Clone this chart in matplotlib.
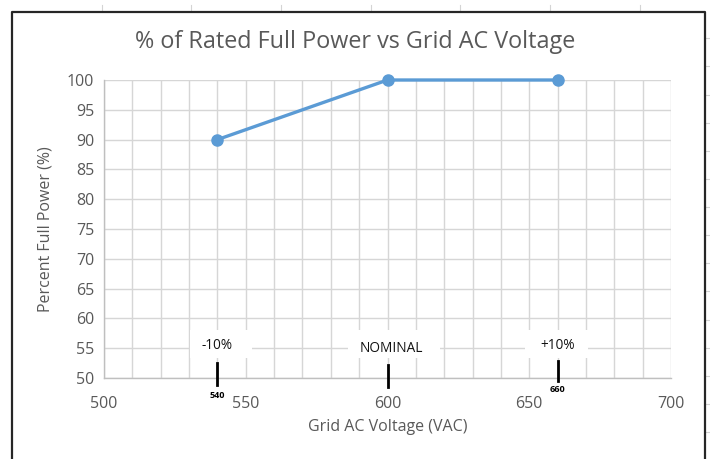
import matplotlib
matplotlib.use("Agg")
import matplotlib.pyplot as plt
from matplotlib.patches import Rectangle
from matplotlib.lines import Line2D

# Data
voltage = [540, 600, 660]
power_pct = [90, 100, 100]

# Reference voltage markers
ref_volts = [540, 600, 660]
ref_labels = ["-10%", "NOMINAL", "+10%"]
ref_small = ["540", "", "660"]

x_ticks = [500, 550, 600, 650, 700]
y_ticks = list(range(50, 101, 5))

title = "% of Rated Full Power vs Grid AC Voltage"
x_label = "Grid AC Voltage (VAC)"
y_label = "Percent Full Power (%)"

plt.rcParams["font.family"] = ["Open Sans", "DejaVu Sans"]

W, H = 710, 459
fig = plt.figure(figsize=(W / 100, H / 100), dpi=100)

# Worksheet cell lines around the chart object
for xp in [102, 191, 281, 371, 460, 550, 640]:
    fig.add_artist(Line2D([xp / W, xp / W], [1 - 5 / H, 1 - 10 / H],
                          color="#d4d4d4", lw=0.8))
for yp in [38, 66, 95, 123, 151, 179, 207, 235, 263, 291, 320, 348, 376, 404, 432]:
    fig.add_artist(Line2D([706 / W, 1.0], [1 - yp / H, 1 - yp / H],
                          color="#d4d4d4", lw=0.8))

# Chart object border
fig.add_artist(Line2D([11.5 / W, 11.5 / W, 704.5 / W, 704.5 / W],
                      [-0.01, 1 - 11.5 / H, 1 - 11.5 / H, -0.01],
                      color="#262626", lw=1.6))

ax = fig.add_axes([104 / W, 1 - 378 / H, (671 - 104) / W, (378 - 80) / H])
ax.set_xlim(500, 700)
ax.set_ylim(50, 100)

ax.set_xticks(range(500, 701, 10), minor=True)
ax.set_xticks(x_ticks)
ax.set_yticks(y_ticks)
ax.grid(True, which="both", color="#d6d6d6", lw=1.0, zorder=0)
ax.set_axisbelow(True)

for s in ["top", "right"]:
    ax.spines[s].set_visible(False)
for s in ["left", "bottom"]:
    ax.spines[s].set_color("#bfbfbf")
    ax.spines[s].set_linewidth(1.0)
ax.tick_params(which="both", length=0)
ax.tick_params(axis="x", pad=13, labelsize=11.5, labelcolor="#595959")
ax.tick_params(axis="y", pad=7, labelsize=11.5, labelcolor="#595959")

ax.plot(voltage, power_pct, color="#5b9bd5", lw=2.4, marker="o",
        markersize=8, zorder=5, clip_on=False)

# White label boxes, marker ticks and labels
box_w = [22, 32.5, 22]
box_c = [541.2, 602.2, 659.6]
for v, lab, small, bw, bc in zip(ref_volts, ref_labels, ref_small, box_w, box_c):
    ax.add_patch(Rectangle((bc - bw / 2, 53.3), bw, 4.7, facecolor="white",
                           edgecolor="none", zorder=2))
    ty = 55.5 if lab != "NOMINAL" else 54.9
    ax.text(v + (1.2 if lab == "NOMINAL" else 0), ty, lab, ha="center",
            va="center", fontsize=9.8, color="#111111", zorder=6)
for v, y0, y1 in zip(ref_volts, [52.5, 52.2, 52.9], [48.9, 48.5, 49.5]):
    ax.plot([v, v], [y0, y1], color="black", lw=2.0, zorder=6, clip_on=False)
for v, small, yy in zip(ref_volts, ref_small, [47.1, 0, 48.1]):
    if small:
        ax.text(v, yy, small, ha="center", va="center", fontsize=6.5,
                fontweight="bold", color="black", zorder=6, clip_on=False)

fig.text(355.5 / W, 1 - 42 / H, title, ha="center", va="center",
         fontsize=16.8, color="#595959")
fig.text(388 / W, 1 - 427 / H, x_label, ha="center", va="center",
         fontsize=11.5, color="#595959")
fig.text(46 / W, 1 - 229 / H, y_label, ha="center", va="center",
         rotation=90, fontsize=11.5, color="#595959")

fig.savefig("out.png", dpi=100)
